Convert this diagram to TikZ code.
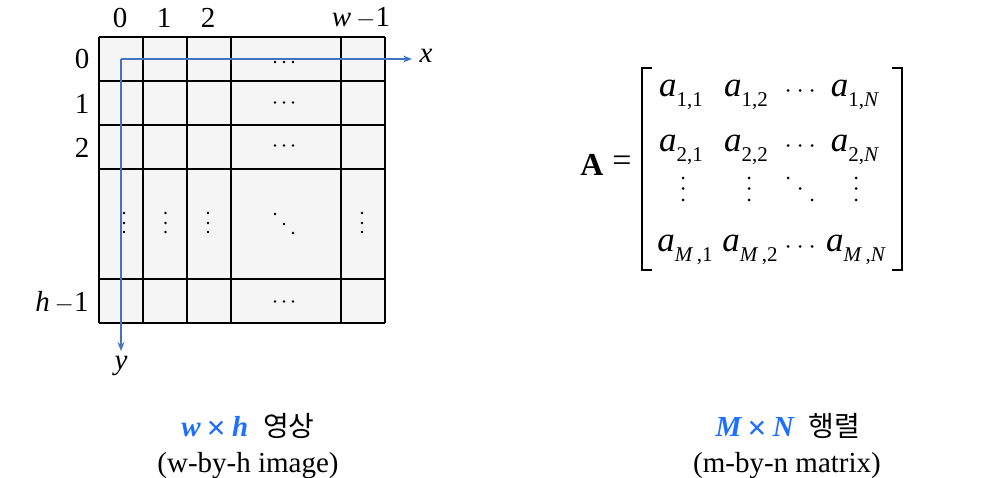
\documentclass[tikz,border=0pt]{standalone}
\usepackage{fontspec}
\setmainfont{Liberation Serif}
\newfontfamily\krfont{Noto Sans CJK KR}
\usetikzlibrary{arrows.meta}
\definecolor{axisblue}{HTML}{4472C4}
\definecolor{capblue}{HTML}{1F6FFF}
\definecolor{cellfill}{HTML}{F5F5F5}
\newcommand{\bigtxt}{\fontsize{29}{34}\selectfont}
\newcommand{\subtxt}{\fontsize{21}{24}\selectfont}
\newcommand{\mentry}[2]{\textit{a}\raisebox{-0.3em}{\subtxt #1,#2}}
\newcommand{\bigtimes}{\raisebox{-3.5pt}{\upshape\fontsize{34}{34}\selectfont ×}}
\begin{document}
\begin{tikzpicture}[x=1pt,y=-1pt,
  lbl/.style={inner sep=0pt, font=\bigtxt},
  gridline/.style={line width=1.3pt, black},
  axisline/.style={line width=1.1pt, axisblue, -{Stealth[length=9pt,width=7pt]}},
  entry/.style={inner sep=0pt, font=\fontsize{35}{38}\selectfont},
  bracket/.style={line width=1.4pt, black},
  smalldot/.style={fill=black},
  bigdot/.style={fill=black}]
\useasboundingbox (0,0) rectangle (993,478);
% image grid
\fill[cellfill] (99,37) rectangle (385,323);
\foreach \xx in {99,143,187,231,341,385} \draw[gridline] (\xx,37) -- (\xx,323);
\foreach \yy in {37,81,125,169,279,323} \draw[gridline] (99,\yy) -- (385,\yy);
% cell dots (horizontal)
\foreach \yy in {62,102.5,145.5,301.5}
  \foreach \xx in {275,284,293} \fill[smalldot] (\xx,\yy) circle (1.3);
% cell dots (vertical)
\foreach \xx in {124,165.5,208,362}
  \foreach \yy in {213,223,232} \fill[smalldot] (\xx,\yy) circle (1.3);
% cell dots (diagonal)
\foreach \xx/\yy in {275/214,284/224,293/233} \fill[smalldot] (\xx,\yy) circle (1.3);
% column / row labels
\node[lbl] (c0) at (120,18) {0};
\node[lbl] (c1) at (164,18) {1};
\node[lbl] (c2) at (208,18) {2};
\node[lbl] (cw) at (361,18) {\textit{w}\,$-$1};
\node[lbl] (r0) at (82,59) {0};
\node[lbl] (r1) at (82,104) {1};
\node[lbl] (r2) at (82,148) {2};
\node[lbl] (rh) at (62,302) {\textit{h}\,$-$1};
% axes
\coordinate (o) at (121,59);
\coordinate (xe) at (412,59);
\coordinate (ye) at (121,351);
\draw[axisline] (o) -- (xe);
\draw[axisline] (o) -- (ye);
\node[lbl] (xl) at (426,56) {\textit{x}};
\node[lbl] (yl) at (121,366) {\textit{y}};
% matrix
\node[inner sep=0pt, font=\fontsize{32}{36}\selectfont] (A) at (592,165) {\textbf{A}};
\node[inner sep=0pt, font=\fontsize{34}{36}\selectfont] (eq) at (622,164) {=};
\draw[bracket] (652,68) -- (642,68) -- (642,270) -- (652,270);
\draw[bracket] (892,68) -- (902,68) -- (902,270) -- (892,270);
\node[entry] (a11) at (681,95) {\mentry{1}{1}};
\node[entry] (a12) at (746,95) {\mentry{1}{2}};
\node[entry] (a1n) at (855,95) {\mentry{1}{\textit{N}}};
\node[entry] (a21) at (681,150) {\mentry{2}{1}};
\node[entry] (a22) at (746,150) {\mentry{2}{2}};
\node[entry] (a2n) at (855,150) {\mentry{2}{\textit{N}}};
\node[entry] (am1) at (685,250) {\mentry{\textit{M}\,}{1}};
\node[entry] (am2) at (750,250) {\mentry{\textit{M}\,}{2}};
\node[entry] (amn) at (856,250) {\mentry{\textit{M}\,}{\textit{N}}};
% matrix dots
\foreach \yy in {90.5,145.5,246.5}
  \foreach \xx in {788,800,812} \fill[bigdot] (\xx,\yy) circle (1.5);
\foreach \xx in {683,749,856}
  \foreach \yy in {178,188.5,200} \fill[bigdot] (\xx,\yy) circle (1.5);
\foreach \xx/\yy in {788/178,800/188.5,812/200} \fill[bigdot] (\xx,\yy) circle (1.5);
% captions
\node[inner sep=0pt, anchor=base] (cap1) at (248,436) {\textcolor{capblue}{\bigtxt\bfseries\itshape w\hspace{6pt}\bigtimes\hspace{6pt}h}\hspace{15pt}{\krfont\fontsize{28}{32}\selectfont 영상}};
\node[lbl, anchor=base] (sub1) at (248,472) {(w-by-h image)};
\node[inner sep=0pt, anchor=base] (cap2) at (788,436) {\textcolor{capblue}{\bigtxt\bfseries\itshape M\hspace{6pt}\bigtimes\hspace{6pt}N}\hspace{15pt}{\krfont\fontsize{28}{32}\selectfont 행렬}};
\node[lbl, anchor=base] (sub2) at (787,472) {(m-by-n matrix)};
\end{tikzpicture}
\end{document}
